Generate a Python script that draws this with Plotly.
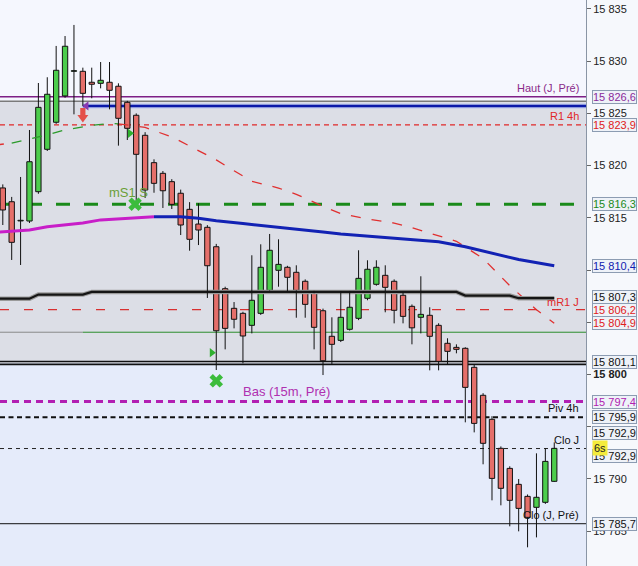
import plotly.graph_objects as go

# ---------------- data ----------------
opens = [15817.86, 15816.54, 15814.70, 15814.69, 15817.50, 15821.56, 15824.15, 15826.67, 15829.03, 15829.03,
         15827.98, 15827.88, 15827.98, 15827.60, 15826.06, 15824.82, 15822.90, 15820.28, 15819.26, 15818.46,
         15817.35, 15815.81, 15814.40, 15814.09, 15812.23, 15808.21, 15806.33, 15805.85, 15804.70, 15805.85,
         15808.05, 15809.97, 15810.26, 15809.78, 15808.92, 15807.77, 15806.10, 15803.65, 15803.26, 15804.32,
         15805.37, 15807.29, 15808.63, 15809.49, 15808.92, 15807.58, 15806.52, 15805.47, 15805.66, 15804.70,
         15802.98, 15802.59, 15802.50, 15800.68, 15798.00, 15795.70, 15792.92, 15791.00, 15789.47, 15788.32,
         15787.27, 15787.75, 15789.76]
highs = [15818.2, 15817.0, 15818.91, 15823.41, 15827.91, 15828.46, 15831.46, 15832.41, 15833.47, 15829.38,
         15829.38, 15829.92, 15829.92, 15827.88, 15826.2, 15825.0, 15823.2, 15820.6, 15819.48, 15818.7,
         15817.7, 15816.5, 15816.39, 15814.3, 15812.5, 15808.4, 15806.93, 15806.0, 15811.41, 15812.46,
         15813.45, 15812.94, 15810.4, 15810.45, 15809.1, 15808.0, 15806.3, 15805.47, 15807.99, 15807.99,
         15811.89, 15810.93, 15810.93, 15810.45, 15809.1, 15807.8, 15806.7, 15809.40, 15806.43, 15804.9,
         15803.46, 15802.88, 15802.6, 15800.9, 15798.2, 15796.0, 15793.1, 15791.2, 15789.98, 15788.5,
         15792.44, 15792.92, 15793.49]
lows = [15814.31, 15810.96, 15810.48, 15814.5, 15817.3, 15821.4, 15824.0, 15826.5, 15824.91, 15825.71,
        15826.45, 15827.40, 15825.39, 15821.91, 15822.45, 15815.9, 15816.9, 15817.40, 15815.94, 15815.84,
        15813.35, 15811.85, 15812.39, 15807.32, 15800.42, 15802.40, 15804.41, 15801.06, 15803.93, 15805.7,
        15808.0, 15808.40, 15807.92, 15805.43, 15805.43, 15802.40, 15799.94, 15801.00, 15803.1, 15804.2,
        15805.2, 15807.1, 15808.5, 15805.95, 15804.89, 15804.89, 15802.88, 15803.93, 15800.39, 15800.39,
        15800.96, 15802.02, 15795.41, 15794.45, 15791.39, 15787.94, 15787.46, 15785.45, 15784.97, 15783.44,
        15784.39, 15787.6, 15789.7]
closes = [15815.75, 15812.65, 15814.72, 15820.37, 15825.58, 15826.83, 15829.13, 15831.43, 15829.05, 15826.92,
          15827.79, 15828.17, 15827.21, 15824.53, 15823.57, 15821.08, 15817.66, 15818.30, 15817.59, 15816.29,
          15814.31, 15812.94, 15813.83, 15810.41, 15804.18, 15804.41, 15805.28, 15803.68, 15807.10, 15810.26,
          15811.89, 15810.54, 15809.30, 15808.05, 15806.71, 15804.51, 15801.31, 15802.88, 15805.47, 15806.43,
          15809.20, 15810.07, 15810.26, 15808.34, 15806.14, 15805.56, 15804.46, 15805.75, 15803.65, 15801.25,
          15802.21, 15802.40, 15798.76, 15795.31, 15793.40, 15790.04, 15789.09, 15787.94, 15787.17, 15786.31,
          15788.23, 15791.67, 15792.92]

# moving average (thick, magenta then blue)
ma_idx = [-1, 0, 3, 5, 9, 11, 15, 17, 20, 22, 24, 27, 30, 33, 36, 38, 41, 44, 47, 49, 52, 56, 58, 62]
ma_val = [15813.6, 15813.67, 15813.83, 15814.15, 15814.5, 15814.8, 15815.02, 15815.1, 15815.1, 15814.95,
          15814.72, 15814.45, 15814.2, 15813.9, 15813.65, 15813.45, 15813.26, 15813.03, 15812.81, 15812.7,
          15812.23, 15811.4, 15811.0, 15810.4]
ma_split = 17

# dashed moving average (red falling / green rising)
ma2_idx = [-1, 1, 4, 7, 10, 12, 13, 16, 19, 21, 24, 26, 28, 31, 33, 36, 38, 41, 44, 46, 49, 51, 54, 56, 57, 60, 62]
ma2_val = [15821.95, 15822.16, 15822.74, 15823.41, 15823.85, 15824.03, 15824.0, 15823.65, 15822.75, 15821.85,
           15820.55, 15819.5, 15818.5, 15817.85, 15817.25, 15816.1, 15815.4, 15814.88, 15814.5, 15814.05,
           15813.3, 15812.75, 15811.1, 15809.4, 15808.5, 15806.2, 15804.9]
ma2_rise = (1, 13)

# black step line
step_idx = [-1, 3, 4, 9, 10, 51, 52, 57, 58, 62]
step_val = [15807.25, 15807.25, 15807.65, 15807.65, 15807.9, 15807.9, 15807.55, 15807.55, 15807.3, 15807.3]

# levels
haut_j_pre = 15826.6
haut_gray = 15826.16
haut_blue = 15825.71
r1_4h = 15823.9
ms1 = 15816.3
mr1_j = 15806.2
green_lvl = 15804.04
bas_j = 15801.1
bas_15m = 15797.4
piv_4h = 15795.9
clo_j = 15792.9
clo_j_pre = 15785.7
day_start_idx = 9

# signals
sell_x, sell_y = [9], [15824.85]
tri_left_x, tri_left_y = [9.4], [15825.71]
tri_right_x, tri_right_y = [14.3, 23.5], [15823.09, 15802.08]
cross_x, cross_y = [14.87, 24.0], [15816.3, 15799.39]

# right-hand price boxes
box_values = [15826.6, 15823.9, 15816.3, 15810.4, 15807.3, 15806.2, 15804.9, 15801.1, 15797.4, 15795.9, 15792.9, 15792.9, 15785.7]
box_colors = ['#8a2a9a', '#e02020', '#1a8a1a', '#1020b0', '#111111', '#e02020', '#e02020', '#111111', '#b020b0', '#111111', '#111111', '#111111', '#111111']
box_shift = [0, 0, 0, 0, 1.5, 0, 0, 1.3, 0, 0, 16, -7, 0]

tick_vals = [15785, 15790, 15795, 15800, 15805, 15810, 15815, 15820, 15825, 15830, 15835]
tick_hidden = [15795, 15805, 15810]   # covered by the price boxes in the reference

# ---------------- figure ----------------
FONT = 'Liberation Sans, Arial, sans-serif'
Y0, Y1 = 15781.65, 15835.86
X0, X1 = -0.315, 65.57
GREEN_C, RED_C = '#4ccd4c', '#e56f6a'

def fmt(v, dec=1):
    s = f'{v:,.{dec}f}'
    return s.replace(',', ' ').replace('.', ',')

idx = list(range(len(opens)))
fig = go.Figure()

# dashed MA (drawn first)
r0, r1 = ma2_rise
segs = [([i for i in range(len(ma2_idx)) if ma2_idx[i] <= r0], '#e03030'),
        ([i for i in range(len(ma2_idx)) if r0 <= ma2_idx[i] <= r1], '#2a9a2a'),
        ([i for i in range(len(ma2_idx)) if ma2_idx[i] >= r1], '#e03030')]
for sel, col in segs:
    fig.add_trace(go.Scatter(x=[ma2_idx[i] for i in sel], y=[ma2_val[i] for i in sel], mode='lines',
                             line=dict(color=col, width=1.3, dash='10px,11px'), hoverinfo='skip'))

# step line
fig.add_trace(go.Scatter(x=step_idx, y=step_val, mode='lines', line=dict(color='#9a9a9a', width=4.5), hoverinfo='skip'))
fig.add_trace(go.Scatter(x=step_idx, y=step_val, mode='lines', line=dict(color='#151515', width=2.2), hoverinfo='skip'))

# bodies
bases = [min(o, c) for o, c in zip(opens, closes)]
heights = [max(abs(c - o), 0.06) for o, c in zip(opens, closes)]
cols = [GREEN_C if c >= o else RED_C for o, c in zip(opens, closes)]
fig.add_trace(go.Bar(x=idx, y=heights, base=bases, width=0.6, marker=dict(color=cols, line=dict(color='#111', width=1)),
                     hoverinfo='skip'))

# wicks
wx, wy = [], []
for i, (o, h, l, c) in enumerate(zip(opens, highs, lows, closes)):
    top, bot = max(o, c), min(o, c)
    if h > top:
        wx += [i, i, None]; wy += [h, top, None]
    if l < bot:
        wx += [i, i, None]; wy += [bot, l, None]
fig.add_trace(go.Scatter(x=wx, y=wy, mode='lines', line=dict(color='#111', width=1), hoverinfo='skip'))

# MA thick
mi = [i for i in range(len(ma_idx)) if ma_idx[i] <= ma_split]
bi = [i for i in range(len(ma_idx)) if ma_idx[i] >= ma_split]
fig.add_trace(go.Scatter(x=[ma_idx[i] for i in mi], y=[ma_val[i] for i in mi], mode='lines',
                         line=dict(color='#c81ec8', width=3), hoverinfo='skip'))
fig.add_trace(go.Scatter(x=[ma_idx[i] for i in bi], y=[ma_val[i] for i in bi], mode='lines',
                         line=dict(color='#1222b4', width=3), hoverinfo='skip'))

# markers
fig.add_trace(go.Scatter(x=tri_left_x, y=tri_left_y, mode='markers',
                         marker=dict(symbol='triangle-left', size=8, color='#8a3ab0'), hoverinfo='skip'))
fig.add_trace(go.Scatter(x=tri_right_x, y=tri_right_y, mode='markers',
                         marker=dict(symbol='triangle-right', size=8, color='#2fb02f'), hoverinfo='skip'))
fig.add_trace(go.Scatter(x=cross_x, y=cross_y, mode='markers',
                         marker=dict(symbol='x', size=12, color='#3cbc3c', line=dict(width=0)), hoverinfo='skip'))

shapes = []
# backgrounds
shapes.append(dict(type='rect', xref='paper', yref='y', x0=0, x1=1, y0=haut_gray, y1=Y1 + 1,
                   fillcolor='#f5f7fe', line=dict(width=0), layer='below'))
shapes.append(dict(type='rect', xref='paper', yref='y', x0=0, x1=1, y0=bas_j, y1=haut_gray,
                   fillcolor='#dcdee6', line=dict(width=0), layer='below'))

def hline(y, color, width, dash='solid', x0=None, x1=None):
    if x0 is None and x1 is None:
        shapes.append(dict(type='line', xref='paper', yref='y', x0=0, x1=1, y0=y, y1=y,
                           line=dict(color=color, width=width, dash=dash), layer='below'))
    else:
        shapes.append(dict(type='line', xref='x', yref='y', x0=X0 if x0 is None else x0, x1=X1 if x1 is None else x1,
                           y0=y, y1=y, line=dict(color=color, width=width, dash=dash), layer='below'))

hline(haut_j_pre, '#7e1f86', 1.4)
hline(haut_gray, '#7a7a7a', 1.4)
hline(haut_blue, '#b9c3ee', 5, x0=day_start_idx)
hline(haut_blue, '#0a18a8', 2.5, x0=day_start_idx)
hline(r1_4h, '#e02828', 1.2, '5px,4px')
hline(ms1, '#1a8a1a', 3, '14px,14px')
hline(mr1_j, '#d83030', 1.3, '9px,15px')
hline(green_lvl, '#8a8a8a', 1, x1=day_start_idx)
hline(green_lvl, '#2c8c2c', 1, x0=day_start_idx)
hline(bas_j + 0.14, '#111111', 1.6)
hline(bas_j - 0.14, '#111111', 1.6)
hline(bas_15m, '#b21fb2', 3, '7px,5px')
hline(piv_4h, '#111111', 2, '5px,3.5px')
hline(clo_j, '#222222', 1, '4px,4px')
hline(clo_j_pre, '#111111', 1)

# sell arrow from signal data (sizes in px converted to data units)
PX_X = (X1 - X0) / 586.0
PX_Y = (Y1 - Y0) / 566.0
for sx, sy in zip(sell_x, sell_y):
    top = sy + 7 * PX_Y; mid = sy; bot = sy - 7.5 * PX_Y
    hs, hh = 2.6 * PX_X, 5.5 * PX_X
    path = (f'M {sx-hs},{top} L {sx+hs},{top} L {sx+hs},{mid} L {sx+hh},{mid} L {sx},{bot} '
            f'L {sx-hh},{mid} L {sx-hs},{mid} Z')
    shapes.append(dict(type='path', xref='x', yref='y', path=path, fillcolor='#e4504a',
                       line=dict(width=0), layer='above'))

annotations = []
def label(text, x, y, color, size=11, xref='paper', xanchor='right', yshift=1):
    annotations.append(dict(text=text, x=x, y=y, xref=xref, yref='y', xanchor=xanchor, yanchor='bottom',
                            showarrow=False, font=dict(family=FONT, size=size, color=color), yshift=yshift))

label('Haut (J, Pré)', 0.992, haut_j_pre, '#8a2a8a')
label('R1 4h', 0.991, r1_4h, '#e02828')
label('mR1 J', 0.991, mr1_j, '#e02828', yshift=0)
label('Piv 4h', 0.992, piv_4h, '#111111')
label('Clo J', 0.991, clo_j, '#111111')
label('Clo (J, Pré)', 0.992, clo_j_pre, '#111111')
label('Bas (15m, Pré)', 26.78, bas_15m, '#b030b0', size=13, xref='x', xanchor='left')
label('mS1 S', 11.7, ms1, '#6a9f38', size=13, xref='x', xanchor='left', yshift=2)

for v, c, s in zip(box_values, box_colors, box_shift):
    annotations.append(dict(text=fmt(v), x=592 / 586, y=v, xref='paper', yref='y', xanchor='left', yanchor='middle',
                            showarrow=False, yshift=s, font=dict(family=FONT, size=11, color=c),
                            bgcolor='#eef2f8', bordercolor='#8c9cb2', borderwidth=1, borderpad=0))
annotations.append(dict(text='6s', x=592 / 586, y=clo_j, xref='paper', yref='y', xanchor='left', yanchor='middle',
                        showarrow=False, yshift=1, font=dict(family=FONT, size=11, color='#222'),
                        bgcolor='#f4ec3c', borderpad=1))

tick_text = []
for t in tick_vals:
    if t in tick_hidden:
        tick_text.append('')
    elif t == 15800:
        tick_text.append('<b>' + fmt(t, 0) + '</b>')
    else:
        tick_text.append(fmt(t, 0))

fig.update_layout(
    width=638, height=566,
    margin=dict(l=0, r=52, t=0, b=0),
    paper_bgcolor='#f6f8fc', plot_bgcolor='#e5ebfa',
    showlegend=False, hovermode=False,
    shapes=shapes, annotations=annotations,
    xaxis=dict(range=[X0, X1], visible=False, fixedrange=True),
    yaxis=dict(range=[Y0, Y1], side='right', tickmode='array', tickvals=tick_vals, ticktext=tick_text,
               ticks='outside', ticklen=4, tickcolor='#666', showgrid=False, zeroline=False,
               showline=True, linecolor='#8a95a5', linewidth=1, automargin=False, fixedrange=True,
               tickfont=dict(family=FONT, size=11, color='#222')),
)

fig.write_html('out.html', config={'displayModeBar': False},
               post_script="document.body.style.margin='0';document.body.style.overflow='hidden';")
